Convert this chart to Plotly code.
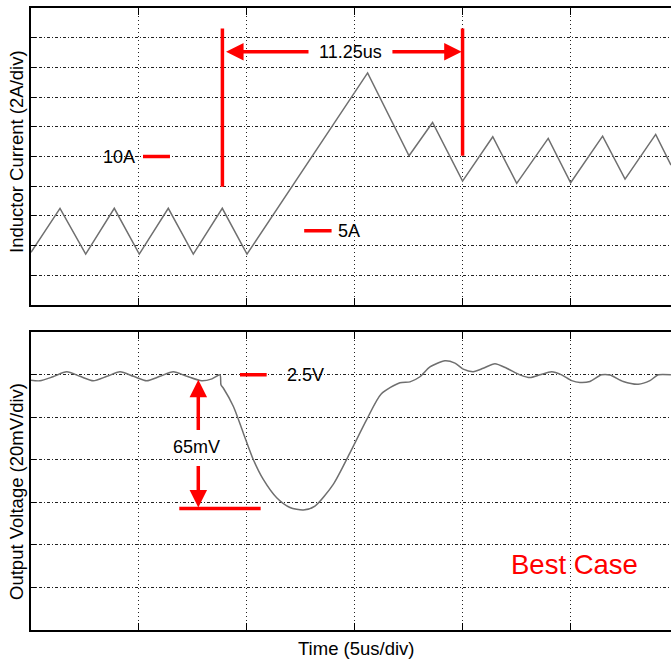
import plotly.graph_objects as go

# ---- data (time in us) ----
t_current = [0.0, 1.344, 2.535, 3.860, 5.018, 6.362, 7.521, 8.865, 10.01,
             15.60, 17.52, 18.61, 20.00, 21.40, 22.51, 23.97, 25.01, 26.49,
             27.53, 28.95, 29.66]
i_current = [3.55, 6.51, 3.43, 6.51, 3.43, 6.51, 3.43, 6.51, 3.43,
             15.63, 10.05, 12.29, 8.34, 11.33, 8.19, 11.22, 8.23, 11.37,
             8.48, 11.49, 9.42]

t_voltage = [0.0, 0.417, 1.019, 1.654, 2.271, 2.887, 3.522, 4.124, 4.750,
             5.361, 5.978, 6.594, 7.229, 7.910, 8.387, 8.758, 8.804, 8.911,
             9.375, 9.838, 10.301, 10.765, 11.386, 12.002, 12.618, 13.160,
             14.008, 14.782, 15.556, 16.219, 17.099, 17.563, 18.026, 18.489,
             19.184, 19.648, 20.032, 20.496, 20.959, 21.501, 22.044, 22.660,
             23.123, 23.587, 24.129, 24.592, 25.056, 25.440, 25.904, 26.446,
             26.830, 27.447, 28.142, 28.684, 29.069, 29.657]
v_voltage = [2.4974, 2.4972, 2.4991, 2.5014, 2.4993, 2.4972, 2.4993, 2.5014, 2.4993,
             2.4972, 2.4993, 2.5014, 2.4993, 2.4972, 2.4981, 2.5000, 2.4953, 2.4938,
             2.4852, 2.4727, 2.4602, 2.4508, 2.4422, 2.4376, 2.4364, 2.4383,
             2.4485, 2.4633, 2.4789, 2.4909, 2.4963, 2.4967, 2.4991, 2.5037,
             2.5066, 2.5055, 2.5027, 2.5015, 2.5031, 2.5052, 2.5031, 2.5000,
             2.4987, 2.5000, 2.5015, 2.5000, 2.4973, 2.4964, 2.4969, 2.5000,
             2.4999, 2.4969, 2.4956, 2.4973, 2.5000, 2.5000]

x_range = [0, 29.66]
i_range = [0, 20]
v_range = [2.38, 2.52]

# annotation values
t_step = 8.87          # load step marker
t_settle = 20.0        # settled marker
i_marker_top = 18.62
i_left_bottom = 7.96
i_right_bottom = 10.05
i_arrow = 17.05
v_nominal = 2.5
v_min = 2.4371

RED = "#ff0000"
GRID = "#222222"
WAVE = "#6f6f6f"
FONT = "Liberation Sans, Arial, sans-serif"

fig = go.Figure()
fig.add_trace(go.Scatter(x=t_current, y=i_current, mode="lines",
                         line=dict(color=WAVE, width=1.5),
                         xaxis="x", yaxis="y", showlegend=False, hoverinfo="skip"))
fig.add_trace(go.Scatter(x=t_voltage, y=v_voltage, mode="lines",
                         line=dict(color=WAVE, width=1.5, shape="spline", smoothing=0.7),
                         xaxis="x2", yaxis="y2", showlegend=False, hoverinfo="skip"))

xcommon = dict(range=x_range, tick0=0, dtick=5, showgrid=True, gridcolor=GRID,
               gridwidth=1, griddash="1px,3px", showline=True, linecolor="black",
               linewidth=1.5, mirror="ticks", ticks="inside", ticklen=7,
               tickcolor="black", tickwidth=1, showticklabels=False, zeroline=False)
ycommon = dict(showgrid=True, gridcolor=GRID, gridwidth=1, griddash="3px,2px,1px,2px",
               showline=True, linecolor="black", linewidth=2, mirror=False,
               ticks="inside", ticklen=5, tickcolor="black", tickwidth=1,
               showticklabels=False, zeroline=False)

fig.update_layout(
    width=671, height=664,
    margin=dict(l=31, r=0, t=8, b=34),
    paper_bgcolor="white", plot_bgcolor="white",
    font=dict(family=FONT, color="black", size=18),
    xaxis=dict(domain=[0, 1], anchor="y", **xcommon),
    yaxis=dict(domain=[0.5225, 1], anchor="x", range=i_range, tick0=0, dtick=2, **ycommon),
    xaxis2=dict(domain=[0, 1], anchor="y2", **xcommon),
    yaxis2=dict(domain=[0, 0.4786], anchor="x2", range=v_range, tick0=2.38, dtick=0.02, **ycommon),
)

shapes = []
def redline(x0, y0, x1, y1, xr, yr, w=3.5):
    shapes.append(dict(type="line", x0=x0, y0=y0, x1=x1, y1=y1, xref=xr, yref=yr,
                       line=dict(color=RED, width=w)))

# top panel markers
redline(t_step, i_marker_top, t_step, i_left_bottom, "x", "y")
redline(t_settle, i_marker_top, t_settle, i_right_bottom, "x", "y")
redline(5.19, 10, 6.44, 10, "x", "y")
redline(12.66, 5, 13.93, 5, "x", "y")
# bottom panel markers
redline(9.685, v_nominal, 10.922, v_nominal, "x2", "y2")
redline(6.872, v_min, 10.644, v_min, "x2", "y2")
fig.update_layout(shapes=shapes)

ann = []
def arrow(x, y, ax, ay, xr, yr):
    ann.append(dict(x=x, y=y, ax=ax, ay=ay, xref=xr, yref=yr, axref=xr, ayref=yr,
                    text="", showarrow=True, arrowhead=2, arrowsize=1.0, arrowwidth=3.5,
                    arrowcolor=RED, standoff=0, startstandoff=0))
def label(x, y, text, xr, yr, xanchor="center", size=18, color="black"):
    ann.append(dict(x=x, y=y, xref=xr, yref=yr, text=text, showarrow=False,
                    xanchor=xanchor, yanchor="middle", font=dict(size=size, color=color)))

arrow(9.04, i_arrow, 12.93, i_arrow, "x", "y")
arrow(19.96, i_arrow, 16.68, i_arrow, "x", "y")
label(14.81, i_arrow, "11.25us", "x", "y")
label(4.90, 10, "10A", "x", "y", xanchor="right")
label(14.15, 5, "5A", "x", "y", xanchor="left")

arrow(7.753, 2.4977, 7.753, 2.4734, "x2", "y2")
arrow(7.753, 2.4376, 7.753, 2.4578, "x2", "y2")
label(7.66, 2.4661, "65mV", "x2", "y2")
label(11.77, v_nominal, "2.5V", "x2", "y2", xanchor="left")
label(25.17, 2.4110, "Best Case", "x2", "y2", size=27.5, color=RED)

# axis titles
ann.append(dict(x=-0.023, y=0.769, xref="paper", yref="paper", text="Inductor Current (2A/div)",
                textangle=-90, showarrow=False, xanchor="center", yanchor="middle",
                font=dict(size=18.5)))
ann.append(dict(x=-0.023, y=0.2224, xref="paper", yref="paper", text="Output Voltage (20mV/div)",
                textangle=-90, showarrow=False, xanchor="center", yanchor="middle",
                font=dict(size=18.5)))
ann.append(dict(x=0.509, y=-0.029, xref="paper", yref="paper", text="Time (5us/div)",
                showarrow=False, xanchor="center", yanchor="middle", font=dict(size=18.5)))
fig.update_layout(annotations=ann)

fig.write_html("out.html")
